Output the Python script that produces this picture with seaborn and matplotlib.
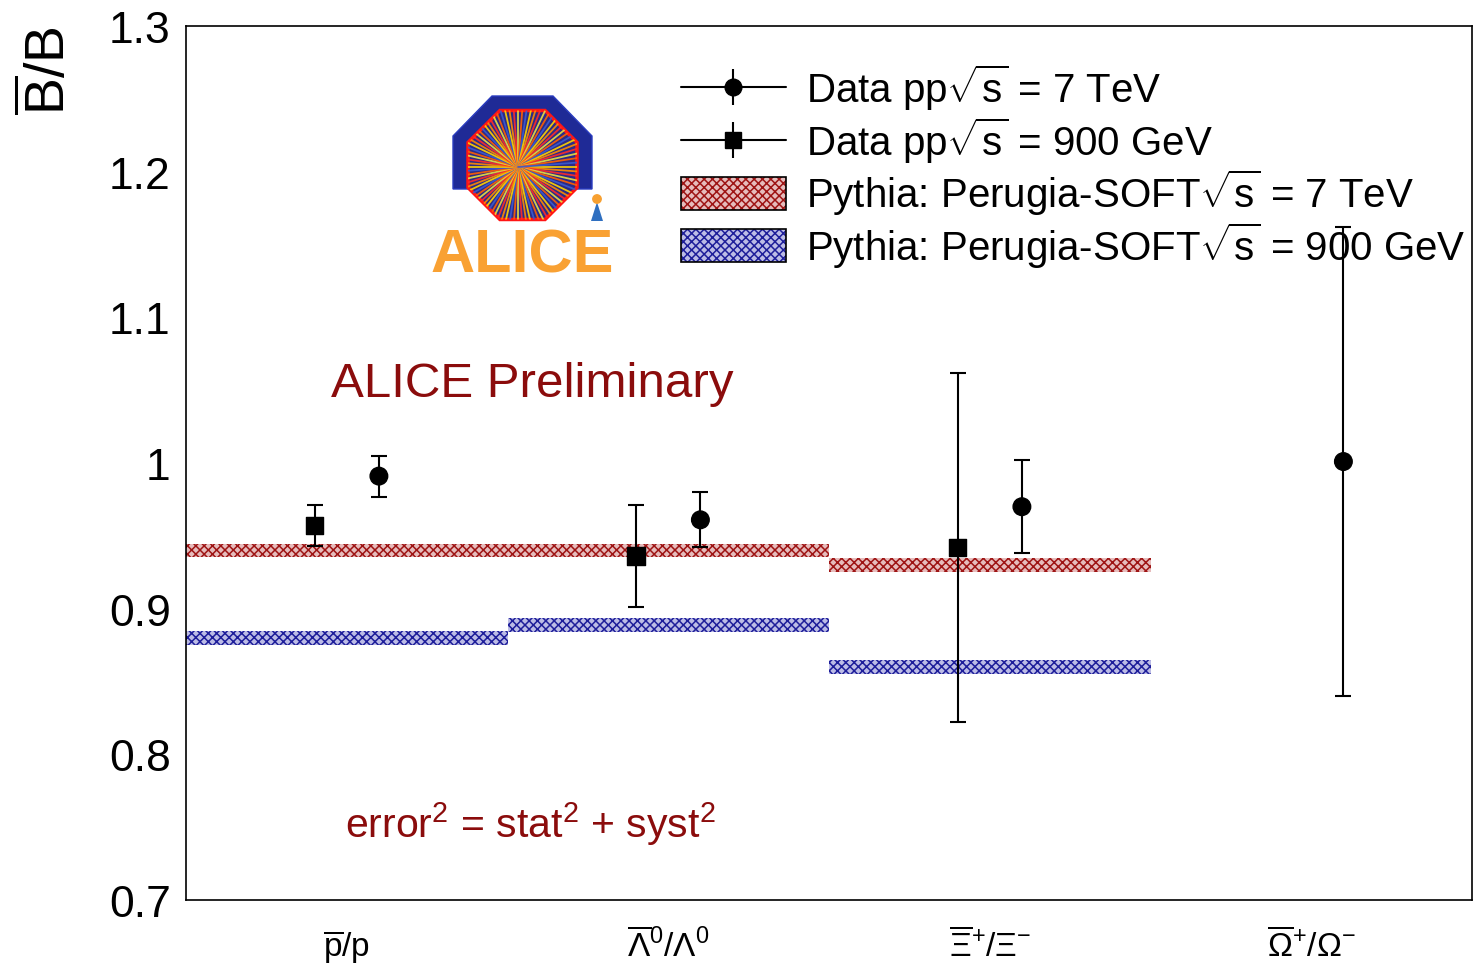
import numpy as np
import pandas as pd
import matplotlib
matplotlib.use("Agg")
import matplotlib.pyplot as plt
import seaborn as sns
from matplotlib.patches import Rectangle, Polygon
from matplotlib.lines import Line2D
from matplotlib.legend_handler import HandlerTuple

# ---- data -----------------------------------------------------------------
ratio_labels = [r"$\overline{\mathrm{p}}/\mathrm{p}$",
                r"$\overline{\Lambda}^{0}/\Lambda^{0}$",
                r"$\overline{\Xi}^{+}/\Xi^{-}$",
                r"$\overline{\Omega}^{+}/\Omega^{-}$"]

# measured antibaryon/baryon ratios (total error = stat (+) syst)
data_900_val = [0.957, 0.936, 0.942]
data_900_err = [0.014, 0.035, 0.120]
data_7_val = [0.991, 0.961, 0.970, 1.001]
data_7_err = [0.014, 0.019, 0.032, 0.161]

# Pythia Perugia-SOFT predictions (one value per ratio bin)
pythia_7_val = [0.940, 0.940, 0.930]
pythia_900_val = [0.880, 0.889, 0.860]
pythia_halfwidth = 0.0047

y_ticks = [0.7, 0.8, 0.9, 1.0, 1.1, 1.2, 1.3]
y_tick_labels = ["0.7", "0.8", "0.9", "1", "1.1", "1.2", "1.3"]

legend_labels = [r"Data pp$\sqrt{\mathrm{s}}$ = 7 TeV",
                 r"Data pp$\sqrt{\mathrm{s}}$ = 900 GeV",
                 r"Pythia: Perugia-SOFT$\sqrt{\mathrm{s}}$ = 7 TeV",
                 r"Pythia: Perugia-SOFT$\sqrt{\mathrm{s}}$ = 900 GeV"]

# ---- style ----------------------------------------------------------------
sns.set_theme(style="white")
plt.rcParams["font.family"] = ["Liberation Sans", "DejaVu Sans"]
plt.rcParams["mathtext.fontset"] = "custom"
plt.rcParams["mathtext.rm"] = "Liberation Sans"
plt.rcParams["mathtext.it"] = "Liberation Sans:italic"
plt.rcParams["mathtext.bf"] = "Liberation Sans:bold"
plt.rcParams["mathtext.sf"] = "Liberation Sans"
plt.rcParams["hatch.linewidth"] = 1.1
for key in ("text.color", "axes.labelcolor", "xtick.color", "ytick.color",
            "axes.edgecolor"):
    plt.rcParams[key] = "black"

RED = "#9e1414"
RED_FILL = "#e6bcbc"
BLUE = "#1e1e9a"
BLUE_FILL = "#bcbce6"
DARKRED = "#8b0c0c"

fig = plt.figure(figsize=(14.74, 9.70), dpi=100)
ax = fig.add_axes([186 / 1474, 1 - 901 / 970, (1472 - 186) / 1474, (901 - 27) / 970])

# ---- Pythia bands -----------------------------------------------------------
bins = np.arange(len(pythia_7_val))
for vals, col, fill in ((pythia_7_val, RED, RED_FILL), (pythia_900_val, BLUE, BLUE_FILL)):
    vals = np.asarray(vals)
    ax.bar(bins + 0.5, 2 * pythia_halfwidth, bottom=vals - pythia_halfwidth,
           width=1.0, facecolor=fill, edgecolor=col, hatch="xxxx",
           linewidth=0, zorder=2)

# ---- data points ------------------------------------------------------------
x900 = np.arange(len(data_900_val)) + 0.4
x7 = np.arange(len(data_7_val)) + 0.6
df = pd.DataFrame({
    "x": np.concatenate([x900, x7]),
    "ratio": data_900_val + data_7_val,
    "energy": ["900 GeV"] * len(data_900_val) + ["7 TeV"] * len(data_7_val),
})
ax.errorbar(x900, data_900_val, yerr=data_900_err, fmt="none", ecolor="black",
            elinewidth=1.5, capsize=6, capthick=1.5, zorder=4)
ax.errorbar(x7, data_7_val, yerr=data_7_err, fmt="none", ecolor="black",
            elinewidth=1.5, capsize=6, capthick=1.5, zorder=4)
sns.scatterplot(data=df, x="x", y="ratio", style="energy",
                markers={"900 GeV": "s", "7 TeV": "o"}, color="black",
                edgecolor="black", s=160, legend=False, ax=ax, zorder=5)

# ---- axes -------------------------------------------------------------------
ax.set_xlim(0, 4)
ax.set_ylim(0.7, 1.3)
ax.set_xlabel("")
ax.set_ylabel(r"$\overline{\mathrm{B}}$/B", fontsize=40, loc="top", color="black")
ax.yaxis.set_label_coords(-0.085, 1.0)
ax.set_yticks(y_ticks)
ax.set_yticklabels(y_tick_labels)
ax.tick_params(axis="y", which="major", direction="in", length=19, width=1.2,
               labelsize=32, pad=11, colors="black")
ax.set_xticks([0, 1, 2, 3, 4])
ax.set_xticks([0.5, 1.5, 2.5, 3.5], minor=True)
ax.set_xticklabels(ratio_labels, minor=True)
ax.tick_params(axis="x", which="major", direction="in", length=17, width=1.2,
               labelbottom=False, colors="black")
ax.tick_params(axis="x", which="minor", length=0, labelsize=24, pad=20,
               colors="black")
for sp in ax.spines.values():
    sp.set_visible(True)
    sp.set_color("black")
    sp.set_linewidth(1.2)

# ---- annotations ------------------------------------------------------------
ax.text(0.45, 1.046, "ALICE Preliminary", color=DARKRED, fontsize=35.5,
        ha="left", va="baseline")
ax.text(0.495, 0.7434, r"error$^{2}$ = stat$^{2}$ + syst$^{2}$", color=DARKRED,
        fontsize=29.5, ha="left", va="baseline")

# ---- legend -----------------------------------------------------------------
h7 = (Line2D([], [], color="black", lw=1.5, marker="o", ms=12),
      Line2D([], [], color="black", marker="|", ms=26, mew=1.5, ls="none"))
h900 = (Line2D([], [], color="black", lw=1.5, marker="s", ms=12),
        Line2D([], [], color="black", marker="|", ms=26, mew=1.5, ls="none"))
hp7 = (Rectangle((0, 0), 1, 1, facecolor=RED_FILL, edgecolor=RED, hatch="xxxx", lw=0),
       Rectangle((0, 0), 1, 1, facecolor="none", edgecolor="black", lw=1.2))
hp900 = (Rectangle((0, 0), 1, 1, facecolor=BLUE_FILL, edgecolor=BLUE, hatch="xxxx", lw=0),
         Rectangle((0, 0), 1, 1, facecolor="none", edgecolor="black", lw=1.2))
leg = ax.legend([h7, h900, hp7, hp900], legend_labels,
                handler_map={tuple: HandlerTuple(ndivide=1, pad=0)},
                loc="upper left", bbox_to_anchor=(681 / 1474, 1 - 63 / 970),
                bbox_transform=fig.transFigure, frameon=False, fontsize=29,
                borderpad=0, borderaxespad=0, handlelength=2.6,
                handleheight=0.88, handletextpad=0.5, labelspacing=0.05,
                labelcolor="black")

# ---- experiment logo --------------------------------------------------------
lx0, lx1, ly0, ly1 = 426, 620, 92, 280
lax = fig.add_axes([lx0 / 1474, 1 - ly1 / 970, (lx1 - lx0) / 1474, (ly1 - ly0) / 970])
lax.set_xlim(lx0, lx1)
lax.set_ylim(ly1, ly0)
lax.axis("off")

arch = Polygon([(453, 190), (453, 137), (492, 97), (553, 97), (592, 137),
                (592, 190), (577, 190), (577, 143), (545, 112), (500, 112),
                (468, 143), (468, 190)], closed=True, facecolor="#1f2a96",
                edgecolor="#2a3cc0", lw=1.0)
lax.add_patch(arch)

cx, cy, apothem = 522.5, 166.0, 54.5
rad = apothem / np.cos(np.pi / 8)
ang = np.pi / 8 + np.arange(8) * np.pi / 4
octo = Polygon(np.column_stack([cx + rad * np.cos(ang), cy + rad * np.sin(ang)]),
               closed=True, facecolor="#2b2a86", edgecolor="none")
lax.add_patch(octo)
ray_cols = ["#ffd400", "#ff8a00", "#ff2a2a", "#e8e040", "#ff6000", "#3a5ad0"]
for k, a in enumerate(np.linspace(0, 2 * np.pi, 84, endpoint=False)):
    ln, = lax.plot([518, 518 + 80 * np.cos(a)], [168, 168 + 80 * np.sin(a)],
                   color=ray_cols[k % len(ray_cols)], lw=1.3, alpha=0.9)
    ln.set_clip_path(octo)
lax.add_patch(Polygon(octo.get_xy(), closed=True, facecolor="none",
                      edgecolor="#ff1515", lw=2.5))
# little figure sitting on the lettering
lax.add_patch(Polygon([(591, 222), (603, 222), (597, 203)], closed=True,
                      facecolor="#2f6fc0", edgecolor="none"))
lax.add_patch(plt.Circle((597, 200), 4.2, color="#f7a030"))
lax.text(522, 273, "ALICE", color="#f9a133", fontsize=44, fontweight="bold",
         ha="center", va="baseline")

fig.savefig("out.png", dpi=100)
